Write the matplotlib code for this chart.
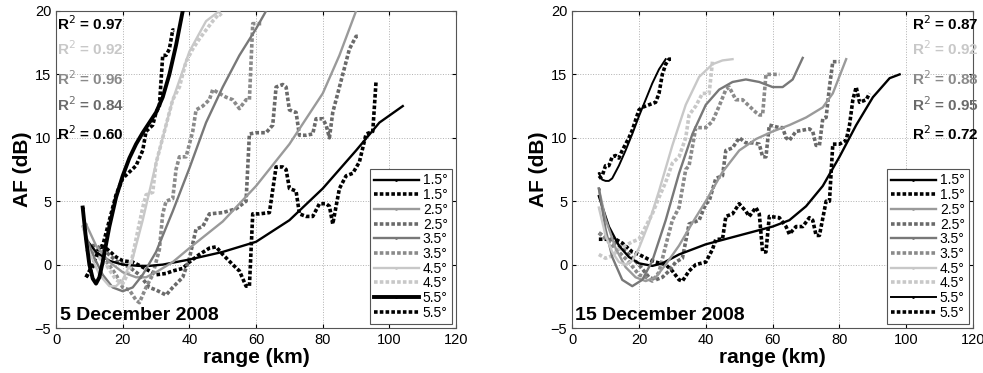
import matplotlib
matplotlib.use("Agg")
import matplotlib.pyplot as plt

plt.rcParams['font.family'] = ['Liberation Sans', 'DejaVu Sans']

# ---- 5 December 2008 ------------------------------------------------------
d1_fit15_x = [9, 12, 16, 20, 25, 28, 32, 40, 50, 60, 70, 80, 90, 97, 104]
d1_fit15_y = [2.0, 1.0, 0.3, 0.0, -0.1, -0.1, 0.0, 0.4, 1.0, 1.8, 3.5, 6.0, 9.0, 11.2, 12.5]
d1_dat15_x = [9, 11, 13, 15, 18, 20, 23, 26, 28, 30, 33, 35, 38, 40, 43, 46, 48, 50, 53, 55, 57, 58, 59,
              61, 64, 66, 68, 69, 70, 72, 73, 75, 77, 79, 81, 82, 83, 85, 87, 89, 91, 93, 95, 96]
d1_dat15_y = [-1.0, 0.0, 1.4, 1.3, 0.6, 0.3, 0.2, -0.2, -0.5, -0.8, -0.7, -0.5, -0.3, 0.2, 0.8, 1.3, 1.4,
              0.8, 0.0, -0.5, -1.7, -1.7, 4.0, 4.0, 4.1, 7.7, 7.7, 7.5, 6.0, 5.8, 4.0, 3.8, 3.8, 4.8,
              4.8, 4.6, 3.2, 6.0, 7.0, 7.2, 8.1, 10.3, 10.5, 14.5]
d1_fit25_x = [9, 12, 16, 20, 24, 27, 30, 35, 40, 50, 60, 70, 80, 85, 90]
d1_fit25_y = [3.2, 1.5, 0.2, -0.6, -1.0, -1.0, -0.6, 0.2, 1.3, 3.4, 6.2, 9.5, 13.5, 16.5, 20.0]
d1_dat25_x = [9, 12, 15, 18, 22, 25, 28, 30, 33, 35, 38, 40, 42, 44, 46, 50, 54, 57, 58, 60, 63, 65,
              66, 68, 69, 70, 72, 73, 75, 77, 78, 80, 81, 82, 83, 85, 87, 88, 90, 91]
d1_dat25_y = [1.5, 1.5, 1.0, 0.3, -0.2, -0.8, -1.8, -2.0, -2.4, -1.8, -1.0, 0.5, 2.8, 3.0, 4.0, 4.1,
              4.4, 5.0, 10.3, 10.4, 10.4, 11.0, 14.0, 14.2, 14.0, 12.2, 12.0, 10.2, 10.2, 10.3, 11.5,
              11.5, 11.0, 10.0, 12.0, 14.0, 16.0, 17.0, 18.0, 18.0]
d1_fit35_x = [8, 11, 14, 17, 20, 23, 26, 30, 35, 40, 45, 50, 55, 60, 63]
d1_fit35_y = [3.0, 0.8, -0.8, -1.8, -2.1, -1.8, -0.8, 1.0, 4.2, 7.6, 11.2, 14.0, 16.5, 18.6, 20.0]
d1_dat35_x = [9, 12, 15, 18, 20, 22, 24, 25, 27, 29, 31, 32, 33, 35, 36, 37, 39, 41, 42, 44, 46, 47,
              49, 51, 53, 55, 57, 58, 59, 60, 62]
d1_dat35_y = [1.2, 0.8, 0.3, -0.8, -1.8, -2.0, -2.8, -3.0, -1.8, -0.8, 1.2, 4.0, 5.0, 5.2, 7.5, 8.5,
              8.5, 10.5, 12.2, 12.5, 13.0, 13.8, 13.5, 13.2, 13.0, 12.3, 13.0, 13.0, 19.0, 19.0, 19.0]
d1_fit45_x = [8, 10, 13, 16, 18, 20, 23, 26, 30, 35, 40, 45, 49]
d1_fit45_y = [3.0, 1.0, -0.8, -1.7, -1.7, -1.2, 0.5, 3.5, 8.0, 13.0, 16.8, 19.2, 20.0]
d1_dat45_x = [9, 12, 15, 18, 20, 22, 24, 26, 27, 29, 30, 32, 34, 35, 37, 39, 41, 43, 45, 47, 49, 50]
d1_dat45_y = [1.5, 0.8, 0.0, -1.2, -1.5, -0.5, 2.0, 4.5, 5.5, 5.7, 8.0, 10.0, 12.0, 13.0, 14.0, 16.0,
              17.0, 17.8, 18.5, 19.2, 19.8, 19.5]
d1_fit55_x = [8, 9, 10, 11, 12, 13, 14, 16, 18, 20, 22, 24, 26, 28, 30, 32, 34, 36, 38]
d1_fit55_y = [4.5, 2.0, 0.0, -1.1, -1.5, -1.0, 0.2, 3.0, 5.3, 7.0, 8.4, 9.5, 10.4, 11.2, 12.0, 13.2,
              15.0, 17.3, 20.0]
d1_dat55_x = [9, 11, 13, 14, 16, 18, 20, 22, 24, 26, 27, 29, 30, 31, 32, 33, 34, 35, 35.5]
d1_dat55_y = [-1.0, -0.2, 1.4, 1.5, 3.5, 5.5, 6.8, 7.3, 7.8, 9.0, 10.5, 11.0, 12.0, 12.5, 16.5, 16.5,
              17.0, 18.5, 18.5]

# ---- 15 December 2008 -----------------------------------------------------
d2_fit15_x = [8, 11, 14, 17, 20, 24, 27, 32, 40, 50, 60, 65, 70, 75, 80, 85, 90, 95, 98]
d2_fit15_y = [5.4, 3.0, 1.5, 0.6, 0.1, -0.1, 0.1, 0.8, 1.6, 2.3, 3.0, 3.5, 4.6, 6.2, 8.5, 11.0, 13.2,
              14.7, 15.0]
d2_dat15_x = [8, 10, 13, 15, 18, 20, 23, 25, 28, 30, 32, 33, 35, 37, 40, 42, 43, 45, 46, 48, 50, 52, 53,
              55, 56, 57, 58, 59, 62, 64, 65, 67, 69, 71, 72, 73, 74, 76, 77, 78, 80, 82, 83, 84,
              85, 86, 88, 89]
d2_dat15_y = [2.0, 2.0, 2.0, 1.7, 1.0, 0.8, 0.4, 0.2, 0.0, -0.5, -1.2, -1.3, -0.5, 0.0, 0.2, 1.2, 2.0,
              2.0, 3.8, 4.0, 4.8, 4.2, 3.8, 4.5, 4.0, 1.0, 1.0, 3.8, 3.7, 3.0, 2.4, 3.0, 3.0, 3.7,
              3.5, 2.3, 2.3, 5.0, 5.0, 9.5, 9.5, 9.8, 11.0, 13.0, 14.0, 12.8, 13.0, 13.5]
d2_fit25_x = [8, 10, 13, 16, 19, 22, 25, 28, 32, 36, 40, 45, 50, 55, 60, 65, 70, 75, 78, 82]
d2_fit25_y = [6.0, 3.6, 1.3, -0.2, -1.0, -1.3, -1.0, 0.0, 1.5, 3.3, 5.0, 7.3, 9.0, 9.9, 10.5, 11.0,
              11.6, 12.4, 13.5, 16.2]
d2_dat25_x = [8, 11, 14, 17, 20, 23, 25, 27, 29, 31, 33, 35, 38, 40, 41, 43, 45, 46, 48, 50, 52, 54,
              56, 57, 58, 59, 62, 63, 64, 65, 67, 69, 71, 72, 73, 74, 75, 76, 77, 78, 80]
d2_dat25_y = [2.5, 2.0, 1.5, 0.8, 0.0, -1.0, -1.2, -1.0, -0.5, 0.2, 0.5, 3.2, 3.5, 4.8, 5.0, 6.8, 7.0,
              9.0, 9.2, 10.0, 9.6, 9.6, 9.5, 8.5, 8.5, 11.0, 10.8, 10.8, 10.0, 9.8, 10.5, 10.6, 10.7,
              10.5, 9.4, 9.4, 11.5, 11.6, 14.0, 16.0, 16.0]
d2_fit35_x = [8, 10, 12, 15, 18, 21, 24, 28, 32, 36, 40, 44, 48, 52, 56, 60, 63, 66, 69]
d2_fit35_y = [6.0, 2.8, 0.6, -1.2, -1.7, -1.2, 0.3, 3.5, 7.2, 10.3, 12.6, 13.8, 14.4, 14.6, 14.4,
              14.0, 14.0, 14.6, 16.3]
d2_dat35_x = [8, 11, 14, 17, 20, 22, 24, 26, 28, 30, 32, 34, 35, 37, 40, 42, 44, 46, 47, 49, 51, 53,
              55, 56, 57, 58, 59, 62]
d2_dat35_y = [2.5, 1.8, 1.0, 0.2, -0.8, -1.0, -1.3, -0.6, 1.5, 3.5, 4.5, 7.5, 7.8, 10.8, 10.8, 11.3,
              12.5, 13.8, 14.0, 13.0, 13.0, 12.5, 12.0, 11.8, 11.8, 15.0, 15.0, 15.0]
d2_fit45_x = [8, 10, 12, 14, 16, 18, 20, 23, 26, 30, 34, 38, 42, 45, 48]
d2_fit45_y = [4.5, 2.3, 1.0, 0.2, 0.0, 0.3, 1.3, 3.3, 5.8, 9.4, 12.6, 14.8, 15.8, 16.1, 16.2]
d2_dat45_x = [8, 10, 12, 14, 16, 18, 20, 22, 24, 26, 28, 30, 32, 34, 35, 37, 39, 41, 42]
d2_dat45_y = [0.8, 0.5, 0.7, 1.2, 1.5, 1.8, 2.0, 3.0, 4.0, 5.3, 6.5, 8.0, 8.5, 10.0, 11.8, 12.5,
              13.5, 13.5, 16.0]
d2_fit55_x = [8, 9, 10, 11, 12, 14, 16, 18, 20, 22, 24, 26, 28]
d2_fit55_y = [7.2, 6.7, 6.6, 6.6, 6.8, 7.8, 9.0, 10.3, 11.7, 13.0, 14.3, 15.4, 16.2]
d2_dat55_x = [8, 9, 10, 11, 12, 13, 14, 15, 17, 18, 20, 21, 23, 25, 26, 27, 28, 29, 30]
d2_dat55_y = [6.8, 7.0, 7.8, 7.8, 8.5, 8.6, 8.4, 9.0, 10.0, 10.6, 12.2, 12.4, 12.6, 12.8, 13.5, 15.0,
              15.8, 16.2, 16.2]

angles = ["1.5°", "2.5°", "3.5°", "4.5°", "5.5°"]
r2_dec5 = ["0.97", "0.92", "0.96", "0.84", "0.60"]
r2_dec15 = ["0.87", "0.92", "0.88", "0.95", "0.72"]
r2_colors = ["black", "#c8c8c8", "#8a8a8a", "#6a6a6a", "black"]

fit_colors = ["black", "#9a9a9a", "#787878", "#c8c8c8", "black"]
dat_colors = ["black", "#6a6a6a", "#8a8a8a", "#c8c8c8", "black"]

fig = plt.figure(figsize=(9.83, 3.73), dpi=100)
ax1 = fig.add_axes([0.057, 0.1206, 0.407, 0.85])
ax2 = fig.add_axes([0.582, 0.1206, 0.408, 0.85])

sets = [
    (ax1, [(d1_fit15_x, d1_fit15_y, d1_dat15_x, d1_dat15_y),
           (d1_fit25_x, d1_fit25_y, d1_dat25_x, d1_dat25_y),
           (d1_fit35_x, d1_fit35_y, d1_dat35_x, d1_dat35_y),
           (d1_fit45_x, d1_fit45_y, d1_dat45_x, d1_dat45_y),
           (d1_fit55_x, d1_fit55_y, d1_dat55_x, d1_dat55_y)], r2_dec5, "5 December 2008", 1.2, 0.3, True),
    (ax2, [(d2_fit15_x, d2_fit15_y, d2_dat15_x, d2_dat15_y),
           (d2_fit25_x, d2_fit25_y, d2_dat25_x, d2_dat25_y),
           (d2_fit35_x, d2_fit35_y, d2_dat35_x, d2_dat35_y),
           (d2_fit45_x, d2_fit45_y, d2_dat45_x, d2_dat45_y),
           (d2_fit55_x, d2_fit55_y, d2_dat55_x, d2_dat55_y)], r2_dec15, "15 December 2008", 1.0, 101.7, False),
]

for ax, series, r2, date, date_x, r2_x, thick55 in sets:
    for i, (fx, fy, dx, dy) in enumerate(series):
        lw = 1.7
        if i == 4 and thick55:
            lw = 2.8
        elif i == 4:
            lw = 1.4
        ax.plot(fx, fy, color=fit_colors[i], lw=lw, marker='.', markersize=2, markevery=[0],
                label=angles[i], zorder=3)
        ax.plot(dx, dy, color=dat_colors[i], lw=2.6, ls=(0, (1, 0.6)), label=angles[i], zorder=2)
    ax.set_xlim(0, 120)
    ax.set_ylim(-5, 20)
    ax.set_xticks(range(0, 121, 20))
    ax.set_yticks(range(-5, 21, 5))
    ax.grid(True, ls=':', color='#b0b0b0', lw=0.7)
    ax.tick_params(labelsize=10.5, direction='in', length=3, top=True, right=True)
    ax.set_xlabel("range (km)", fontsize=15, fontweight='bold', labelpad=1)
    ax.set_ylabel("AF (dB)", fontsize=15, fontweight='bold', labelpad=2)
    for s in ax.spines.values():
        s.set_color('#555555')
    ax.text(date_x, -4.0, date, fontsize=14, fontweight='bold', va='center', ha='left')
    ys = [19.0, 17.0, 14.7, 12.6, 10.3]
    for k in range(5):
        ax.text(r2_x, ys[k], "R$^2$ = " + r2[k], fontsize=11, fontweight='bold',
                color=r2_colors[k], va='center', ha='left', clip_on=False)
    h, l = ax.get_legend_handles_labels()
    leg = ax.legend(h, l, loc='lower right', fontsize=10, handlelength=3.2, labelspacing=0.05,
                    handletextpad=0.3, borderpad=0.3, borderaxespad=0.3, fancybox=False,
                    framealpha=1, edgecolor='#555555')
    leg.get_frame().set_linewidth(0.8)

fig.savefig("out.png", dpi=100)
